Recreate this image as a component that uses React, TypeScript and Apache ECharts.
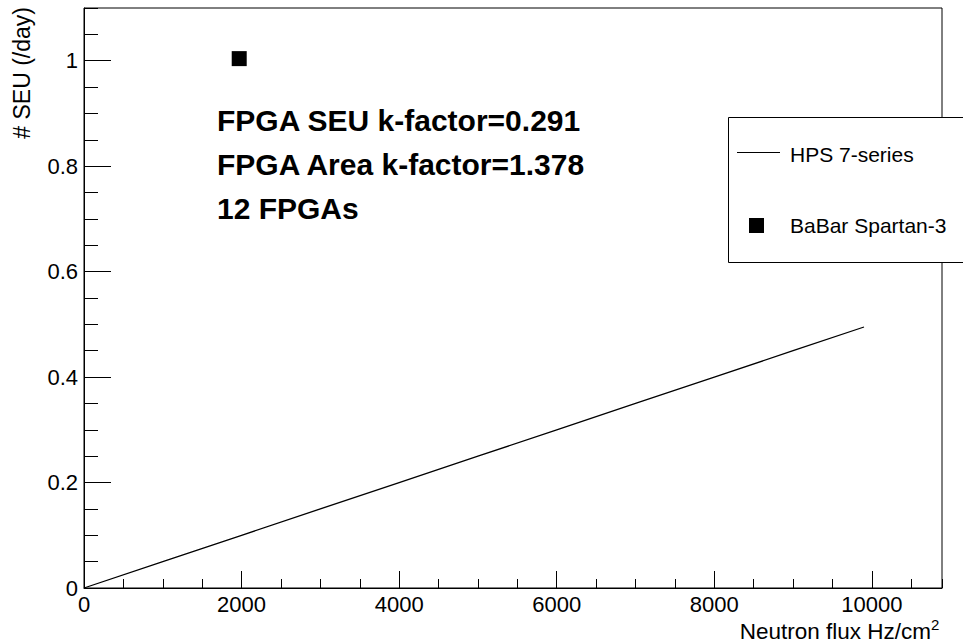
import React, { useEffect, useRef } from "react";
import * as echarts from "echarts";

const fluxValues = [0, 1000, 2000, 3000, 4000, 5000, 6000, 7000, 8000, 9000, 9900];
const seuValues = [0, 0.05, 0.1, 0.15, 0.2, 0.25, 0.3, 0.35, 0.4, 0.45, 0.495];
const babarPoint = [1970, 1.004];
const annotationLines = ["FPGA SEU k-factor=0.291", "FPGA Area k-factor=1.378", "12 FPGAs"];
const legendNames = ["HPS 7-series", "BaBar Spartan-3"];
const xTitle = "Neutron flux Hz/cm";
const xTitleSup = "2";
const yTitle = "# SEU (/day)";

const FONT = "'Liberation Sans', Arial, Helvetica, sans-serif";

export default function App() {
  const ref = useRef<HTMLDivElement>(null);
  useEffect(() => {
    document.body.style.margin = "0";
    const chart = echarts.init(ref.current!, null, { renderer: "svg" });
    const X_MAX = 10890;
    const Y_MAX = 1.1;
    const labelStyle = { color: "#000", fontSize: 22, fontFamily: FONT };
    chart.setOption({
      animation: false,
      backgroundColor: "#fff",
      grid: {
        left: 84,
        right: 21,
        top: 8,
        bottom: 54,
        show: true,
        borderColor: "#000",
        borderWidth: 1,
        backgroundColor: "transparent",
      },
      xAxis: [
        {
          type: "value",
          min: 0,
          max: X_MAX,
          interval: 2000,
          axisLine: { show: true, lineStyle: { color: "#000", width: 1 } },
          axisTick: { show: true, inside: true, length: 17, lineStyle: { color: "#000" } },
          axisLabel: {
            ...labelStyle,
            margin: 5,
            showMaxLabel: false,
            formatter: (v: number) => String(v),
          },
          splitLine: { show: false },
        },
        {
          type: "value",
          min: 0,
          max: X_MAX,
          interval: 500,
          position: "bottom",
          axisLine: { show: false },
          axisTick: { show: true, inside: true, length: 9, lineStyle: { color: "#000" } },
          axisLabel: { show: false },
          splitLine: { show: false },
        },
      ],
      yAxis: [
        {
          type: "value",
          min: 0,
          max: Y_MAX,
          interval: 0.2,
          axisLine: { show: true, lineStyle: { color: "#000", width: 1 } },
          axisTick: { show: true, inside: true, length: 27, lineStyle: { color: "#000" } },
          axisLabel: {
            ...labelStyle,
            margin: 6,
            showMaxLabel: false,
            formatter: (v: number) => String(Math.round(v * 100) / 100),
          },
          splitLine: { show: false },
        },
        {
          type: "value",
          min: 0,
          max: Y_MAX,
          interval: 0.05,
          position: "left",
          axisLine: { show: false },
          axisTick: { show: true, inside: true, length: 14, lineStyle: { color: "#000" } },
          axisLabel: { show: false },
          splitLine: { show: false },
        },
      ],
      series: [
        {
          name: legendNames[0],
          type: "line",
          xAxisIndex: 0,
          yAxisIndex: 0,
          data: fluxValues.map((x, i) => [x, seuValues[i]]),
          showSymbol: false,
          symbol: "none",
          lineStyle: { color: "#000", width: 1.3 },
          silent: true,
        },
        {
          name: legendNames[1],
          type: "scatter",
          xAxisIndex: 0,
          yAxisIndex: 0,
          data: [babarPoint],
          symbol: "rect",
          symbolSize: 15,
          itemStyle: { color: "#000", opacity: 1 },
          silent: true,
        },
      ],
      graphic: [
        ...annotationLines.map((t, i) => ({
          type: "text",
          x: 217,
          y: 120 + i * 44,
          z: 100,
          style: {
            text: t,
            fill: "#000",
            font: `bold 30px ${FONT}`,
            align: "left",
            verticalAlign: "middle",
          },
        })),
        {
          type: "rect",
          z: 100,
          shape: { x: 728.5, y: 117.5, width: 260, height: 145 },
          style: { fill: "#fff", stroke: "#000", lineWidth: 1 },
        },
        {
          type: "line",
          z: 101,
          shape: { x1: 737, y1: 152.5, x2: 780, y2: 152.5 },
          style: { stroke: "#000", lineWidth: 1.2 },
        },
        {
          type: "text",
          z: 101,
          x: 790,
          y: 154,
          style: {
            text: legendNames[0],
            fill: "#000",
            font: `21px ${FONT}`,
            align: "left",
            verticalAlign: "middle",
          },
        },
        {
          type: "rect",
          z: 101,
          shape: { x: 749, y: 218, width: 15, height: 15 },
          style: { fill: "#000" },
        },
        {
          type: "text",
          z: 101,
          x: 790,
          y: 225,
          style: {
            text: legendNames[1],
            fill: "#000",
            font: `21px ${FONT}`,
            align: "left",
            verticalAlign: "middle",
          },
        },
        {
          type: "text",
          z: 100,
          x: 931,
          y: 631,
          style: {
            text: xTitle,
            fill: "#000",
            font: `22.5px ${FONT}`,
            align: "right",
            verticalAlign: "middle",
          },
        },
        {
          type: "text",
          z: 100,
          x: 931,
          y: 624,
          style: {
            text: xTitleSup,
            fill: "#000",
            font: `15px ${FONT}`,
            align: "left",
            verticalAlign: "middle",
          },
        },
        {
          type: "text",
          z: 100,
          x: 22,
          y: 7,
          rotation: Math.PI / 2,
          style: {
            text: yTitle,
            fill: "#000",
            font: `23px ${FONT}`,
            align: "right",
            verticalAlign: "middle",
          },
        },
      ],
    });
    return () => chart.dispose();
  }, []);
  return (
    <div
      ref={ref}
      style={{ position: "absolute", left: 0, top: 0, width: 963, height: 642 }}
    />
  );
}
